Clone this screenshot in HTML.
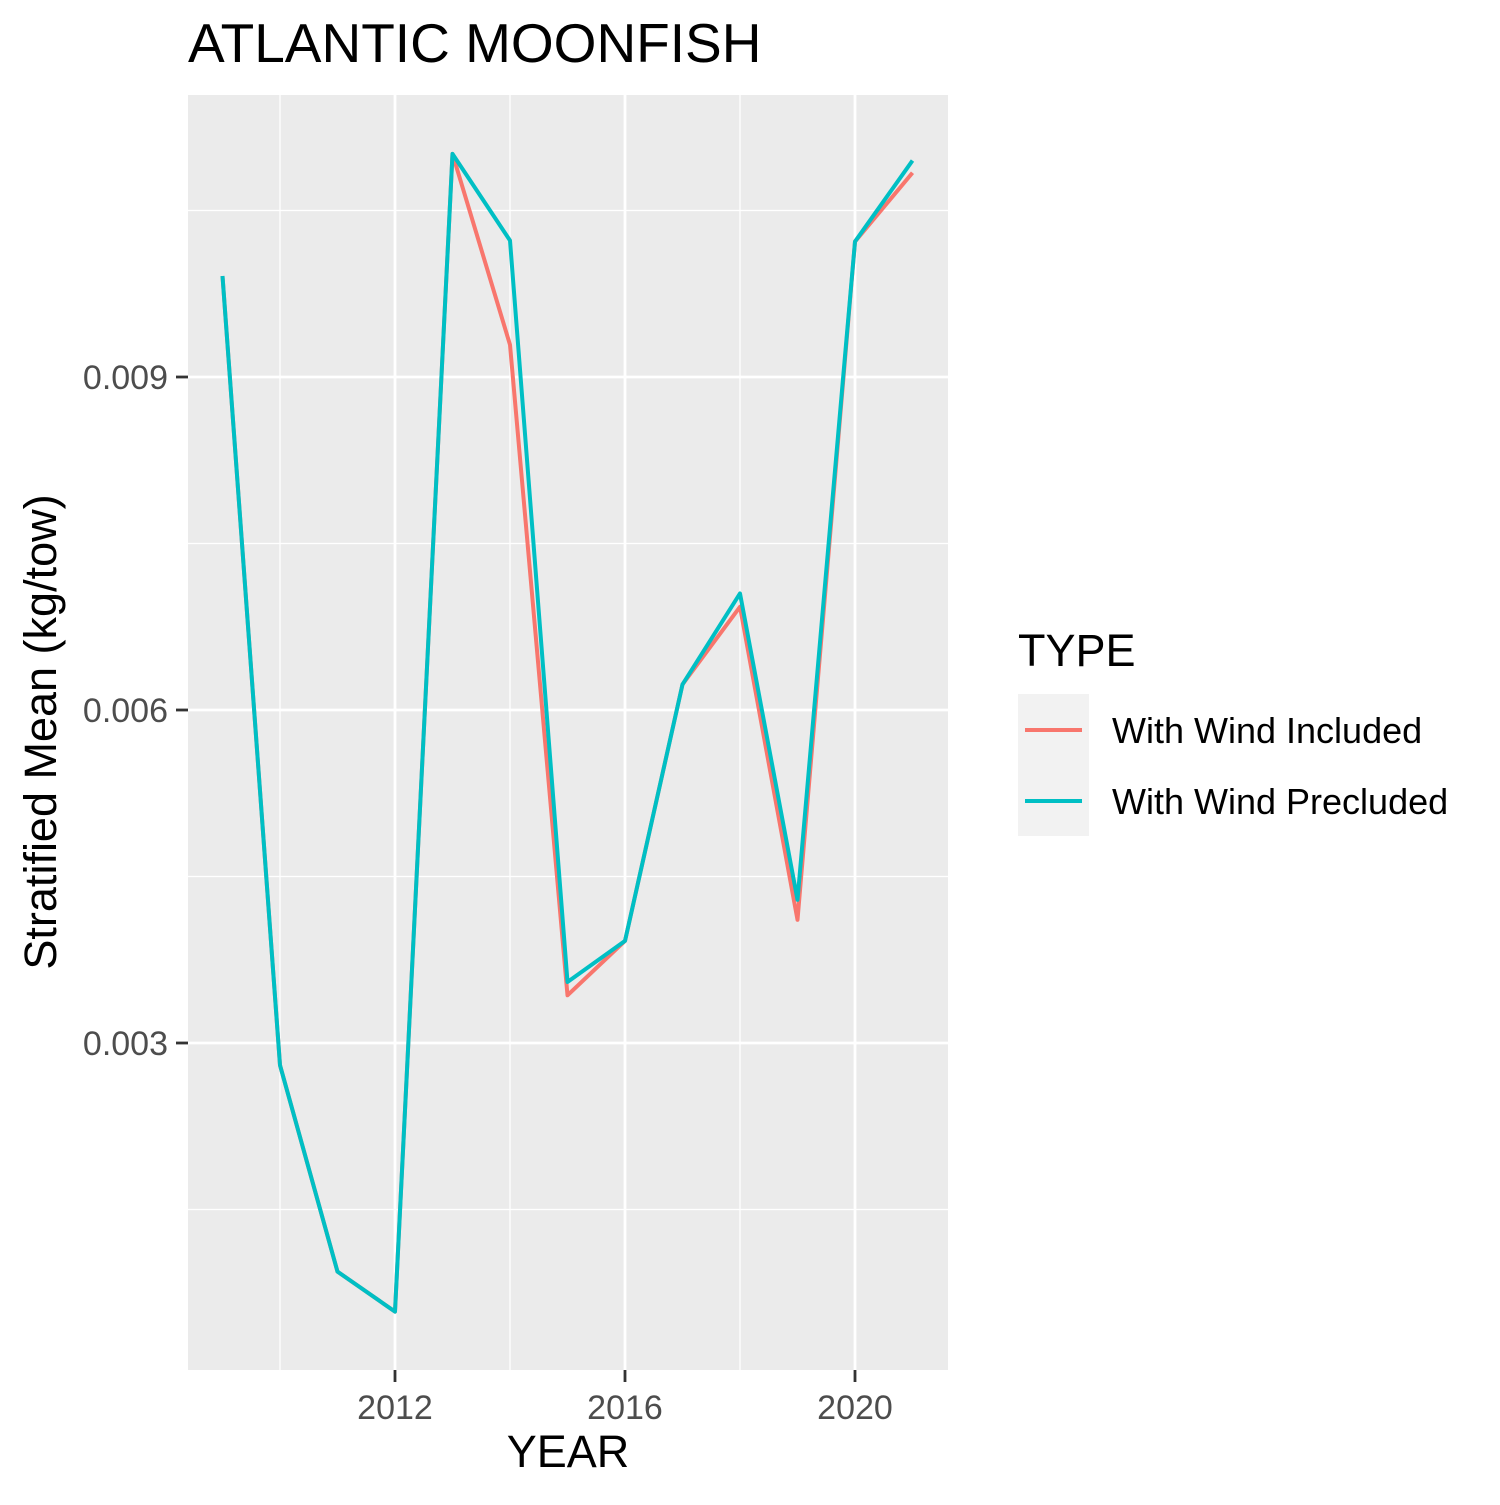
<!DOCTYPE html>
<html><head><meta charset="utf-8"><style>
body{margin:0;background:#fff}
text{font-family:"Liberation Sans",Arial,sans-serif}
</style></head><body>
<svg id="chart" width="1500" height="1500" xmlns="http://www.w3.org/2000/svg">
<rect width="1500" height="1500" fill="#fff"/>
<text x="188" y="62" font-size="55" fill="#000">ATLANTIC MOONFISH</text>
<rect x="188" y="95" width="760" height="1275" fill="#ebebeb"/>
<g id="grid"></g>
<g id="series"></g>
<g id="axes"></g>
<text x="568" y="1467" font-size="45" text-anchor="middle" fill="#000">YEAR</text>
<text transform="translate(56,732) rotate(-90)" font-size="45" text-anchor="middle" fill="#000">Stratified Mean (kg/tow)</text>
<g>
<text x="1018" y="666" font-size="45" fill="#000">TYPE</text>
<rect x="1018" y="694" width="71" height="142" fill="#f2f2f2"/>
<line x1="1025" x2="1082" y1="730" y2="730" stroke="#F8766D" stroke-width="4"/>
<line x1="1025" x2="1082" y1="801" y2="801" stroke="#00BFC4" stroke-width="4"/>
<text x="1112" y="743" font-size="36" fill="#000">With Wind Included</text>
<text x="1112" y="814" font-size="36" fill="#000">With Wind Precluded</text>
</g>
</svg>
<script>
const years=[2009,2010,2011,2012,2013,2014,2015,2016,2017,2018,2019,2020,2021];
const included=[0.00991,0.0028,0.00094,0.00058,0.01101,0.00929,0.00343,0.00392,0.00623,0.00693,0.00411,0.01022,0.01084];
const precluded=[0.00991,0.0028,0.00094,0.00058,0.01101,0.01023,0.00355,0.00392,0.00623,0.00705,0.00429,0.01022,0.01095];
const xMajor=[2012,2016,2020];
const xMinor=[2010,2014,2018];
const yMajor=[0.003,0.006,0.009];
const yMajorLabels=["0.003","0.006","0.009"];
const yMinor=[0.0015,0.0045,0.0075,0.0105];
const NS="http://www.w3.org/2000/svg";
const xs=v=>395+(v-2012)*57.5;
const ys=v=>1043-(v-0.003)*111000;
function mk(tag,attrs,parent){const e=document.createElementNS(NS,tag);for(const k in attrs)e.setAttribute(k,attrs[k]);parent.appendChild(e);return e;}
const grid=document.getElementById('grid'),axes=document.getElementById('axes'),ser=document.getElementById('series');
yMinor.forEach(v=>{const l=mk('line',{x1:188,x2:948,y1:ys(v),y2:ys(v),stroke:'#fff','stroke-width':1.3},grid);

});
xMinor.forEach(v=>{const l=mk('line',{x1:xs(v),x2:xs(v),y1:95,y2:1370,stroke:'#fff','stroke-width':1.3},grid);

});
yMajor.forEach((v,i)=>{const l=mk('line',{x1:188,x2:948,y1:ys(v),y2:ys(v),stroke:'#fff','stroke-width':2.8},grid);


const t=mk('line',{x1:176,x2:188,y1:ys(v),y2:ys(v),stroke:'#333','stroke-width':2.8},axes);


const tx=mk('text',{x:168,y:ys(v)+12,'font-size':34,'text-anchor':'end',fill:'#4d4d4d'},axes);tx.textContent=yMajorLabels[i];

});
xMajor.forEach(v=>{const l=mk('line',{x1:xs(v),x2:xs(v),y1:95,y2:1370,stroke:'#fff','stroke-width':2.8},grid);


const t=mk('line',{x1:xs(v),x2:xs(v),y1:1370,y2:1382,stroke:'#333','stroke-width':2.8},axes);


const tx=mk('text',{x:xs(v),y:1419,'font-size':34,'text-anchor':'middle',fill:'#4d4d4d'},axes);tx.textContent=String(v);

});
function line(vals,color,name){const p=mk('polyline',{points:vals.map((v,i)=>xs(years[i])+','+ys(v)).join(' '),fill:'none',stroke:color,'stroke-width':4,'stroke-linejoin':'round'},ser);

}
line(included,'#F8766D','line-with-wind-included');
line(precluded,'#00BFC4','line-with-wind-precluded');
</script>
</body></html>
